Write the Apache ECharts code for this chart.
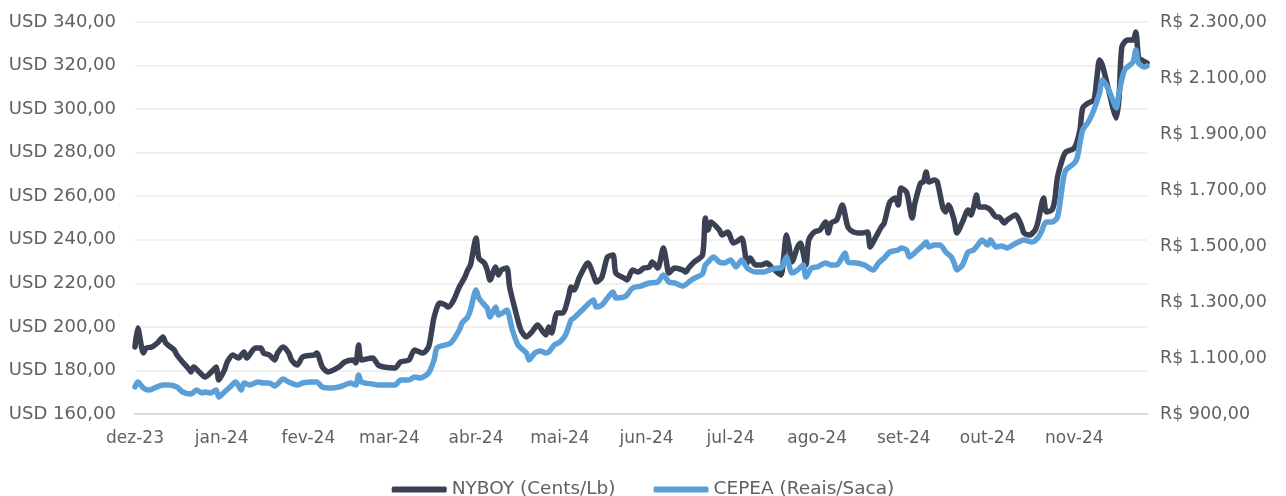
<!DOCTYPE html>
<html>
<head>
<meta charset="utf-8">
<script src="https://cdn.jsdelivr.net/npm/echarts@6/dist/echarts.min.js"></script>
<style>html,body{margin:0;padding:0;background:#fff}#c{width:1286px;height:496px}</style>
</head>
<body>
<div id="c"></div>
<script>
var monthStarts = ['2023-12-01','2024-01-01','2024-02-01','2024-03-01','2024-04-01','2024-05-01','2024-06-01','2024-07-01','2024-08-01','2024-09-01','2024-10-01','2024-11-01'];
var monthLabels = ['dez-23','jan-24','fev-24','mar-24','abr-24','mai-24','jun-24','jul-24','ago-24','set-24','out-24','nov-24'];
var seriesNames = ['NYBOY (Cents/Lb)','CEPEA (Reais/Saca)'];

var nyboy = [
['2023-12-01',190.8],['2023-12-02',199.5],['2023-12-04',188.0],['2023-12-05',190.3],['2023-12-07',190.8],['2023-12-09',192.6],['2023-12-11',195.4],['2023-12-12',192.6],['2023-12-15',189.4],['2023-12-16',187.1],['2023-12-18',183.9],['2023-12-20',181.1],['2023-12-21',179.3],['2023-12-22',181.6],['2023-12-24',179.3],['2023-12-26',177.0],['2023-12-29',180.2],['2023-12-30',181.6],['2023-12-31',175.6],
['2024-01-02',180.2],['2024-01-03',183.9],['2024-01-05',187.1],['2024-01-07',185.7],['2024-01-09',188.5],['2024-01-10',185.7],['2024-01-13',190.3],['2024-01-15',190.3],['2024-01-16',188.0],['2024-01-18',187.1],['2024-01-20',184.8],['2024-01-21',188.0],['2024-01-23',190.8],['2024-01-25',188.0],['2024-01-26',184.8],['2024-01-28',182.5],['2024-01-30',186.2],
['2024-02-03',187.1],['2024-02-04',188.0],['2024-02-06',181.6],['2024-02-08',179.3],['2024-02-12',181.6],['2024-02-14',183.9],['2024-02-17',184.8],['2024-02-18',183.4],['2024-02-19',191.7],['2024-02-20',184.8],['2024-02-24',185.7],['2024-02-26',182.5],['2024-02-28',181.6],
['2024-03-03',181.1],['2024-03-05',183.9],['2024-03-08',184.8],['2024-03-10',189.4],['2024-03-13',188.0],['2024-03-15',190.8],['2024-03-16',197.2],['2024-03-17',204.5],['2024-03-19',211.0],['2024-03-21',210.1],['2024-03-22',209.1],['2024-03-24',212.3],['2024-03-26',218.3],['2024-03-28',222.9],['2024-03-29',226.1],['2024-03-30',228.4],
['2024-04-01',240.8],['2024-04-02',231.6],['2024-04-04',229.3],['2024-04-05',226.1],['2024-04-06',221.5],['2024-04-08',227.5],['2024-04-09',223.8],['2024-04-10',226.1],['2024-04-12',227.0],['2024-04-13',218.3],['2024-04-15',207.8],['2024-04-17',198.6],['2024-04-19',195.4],['2024-04-21',197.7],['2024-04-23',200.9],['2024-04-25',197.7],['2024-04-26',196.3],['2024-04-27',200.0],['2024-04-28',197.2],['2024-04-30',206.4],
['2024-05-02',206.4],['2024-05-04',213.3],['2024-05-05',218.3],['2024-05-06',216.9],['2024-05-08',222.9],['2024-05-11',229.3],['2024-05-13',223.8],['2024-05-14',220.6],['2024-05-16',222.9],['2024-05-18',232.1],['2024-05-20',233.0],['2024-05-21',224.7],['2024-05-24',222.4],['2024-05-25',221.5],['2024-05-27',226.1],['2024-05-29',225.2],['2024-05-31',227.0],
['2024-06-02',227.5],['2024-06-03',229.8],['2024-06-05',227.0],['2024-06-07',236.2],['2024-06-08',230.7],['2024-06-09',224.7],['2024-06-11',227.0],['2024-06-14',226.1],['2024-06-15',225.2],['2024-06-16',227.0],['2024-06-18',229.8],['2024-06-21',233.0],['2024-06-22',250.0],['2024-06-23',244.5],['2024-06-24',248.2],['2024-06-27',244.5],['2024-06-28',242.2],['2024-06-30',243.6],
['2024-07-02',238.5],['2024-07-03',239.0],['2024-07-05',240.8],['2024-07-07',229.3],['2024-07-08',231.6],['2024-07-10',228.4],['2024-07-12',228.4],['2024-07-14',229.3],['2024-07-16',227.0],['2024-07-19',223.8],['2024-07-20',231.6],['2024-07-21',242.2],['2024-07-22',236.7],['2024-07-23',229.8],['2024-07-25',236.7],['2024-07-26',238.5],['2024-07-28',228.4],['2024-07-29',239.9],['2024-07-31',243.6],
['2024-08-02',244.5],['2024-08-04',248.2],['2024-08-05',243.1],['2024-08-06',247.7],['2024-08-08',249.1],['2024-08-10',256.0],['2024-08-12',245.9],['2024-08-14',243.6],['2024-08-17',243.1],['2024-08-19',243.6],['2024-08-20',236.7],['2024-08-22',241.3],['2024-08-24',245.9],['2024-08-25',247.7],['2024-08-27',257.3],['2024-08-29',259.2],['2024-08-30',256.0],['2024-08-31',263.8],
['2024-09-02',261.9],['2024-09-04',250.0],['2024-09-05',256.9],['2024-09-07',266.1],['2024-09-08',266.5],['2024-09-09',271.1],['2024-09-10',266.5],['2024-09-12',267.4],['2024-09-13',266.5],['2024-09-15',254.6],['2024-09-16',252.8],['2024-09-17',256.0],['2024-09-19',249.1],['2024-09-20',243.1],['2024-09-22',248.2],['2024-09-24',253.7],['2024-09-25',251.4],['2024-09-26',255.1],['2024-09-27',260.6],['2024-09-28',255.1],['2024-09-30',255.1],
['2024-10-02',253.7],['2024-10-04',250.5],['2024-10-05',250.5],['2024-10-07',247.7],['2024-10-08',249.1],['2024-10-11',251.4],['2024-10-13',246.8],['2024-10-14',243.1],['2024-10-16',242.2],['2024-10-18',244.5],['2024-10-19',248.2],['2024-10-21',259.2],['2024-10-22',252.8],['2024-10-24',253.7],['2024-10-25',258.3],['2024-10-26',268.8],['2024-10-28',278.0],['2024-10-29',280.3],
['2024-11-01',282.1],['2024-11-03',290.4],['2024-11-04',300.5],['2024-11-06',302.8],['2024-11-08',304.2],['2024-11-09',313.4],['2024-11-10',322.6],['2024-11-11',320.3],['2024-11-13',310.2],['2024-11-15',299.6],['2024-11-16',295.9],['2024-11-17',305.1],['2024-11-18',328.5],['2024-11-20',331.7],['2024-11-22',331.7],['2024-11-23',335.4],['2024-11-24',323.5],['2024-11-25',322.6],['2024-11-27',321.2]
];

var cepea = [
['2023-12-01',996.4],['2023-12-02',1014.3],['2023-12-04',992.9],['2023-12-06',985.7],['2023-12-08',992.9],['2023-12-11',1003.6],['2023-12-13',1003.6],['2023-12-16',996.4],['2023-12-18',978.6],['2023-12-21',971.4],['2023-12-23',985.7],['2023-12-25',975.0],['2023-12-26',978.6],['2023-12-28',975.0],['2023-12-30',985.7],['2023-12-31',960.7],
['2024-01-02',978.6],['2024-01-04',996.4],['2024-01-06',1014.3],['2024-01-08',985.7],['2024-01-09',1010.7],['2024-01-11',1003.6],['2024-01-14',1014.3],['2024-01-16',1010.7],['2024-01-18',1010.7],['2024-01-20',1000.0],['2024-01-23',1025.0],['2024-01-25',1014.3],['2024-01-28',1003.6],['2024-01-30',1010.7],
['2024-02-02',1014.3],['2024-02-04',1014.3],['2024-02-06',996.4],['2024-02-09',992.9],['2024-02-12',996.4],['2024-02-14',1003.6],['2024-02-16',1010.7],['2024-02-18',1003.6],['2024-02-19',1039.3],['2024-02-20',1014.3],['2024-02-24',1007.1],['2024-02-26',1003.6],
['2024-03-03',1003.6],['2024-03-05',1021.4],['2024-03-08',1021.4],['2024-03-10',1032.1],['2024-03-12',1028.6],['2024-03-15',1046.4],['2024-03-17',1092.9],['2024-03-18',1135.7],['2024-03-21',1146.4],['2024-03-23',1153.6],['2024-03-26',1200.0],['2024-03-27',1225.0],['2024-03-29',1246.4],['2024-03-30',1271.4],
['2024-04-01',1342.9],['2024-04-02',1314.3],['2024-04-04',1289.3],['2024-04-05',1278.6],['2024-04-06',1246.4],['2024-04-08',1282.1],['2024-04-09',1253.6],['2024-04-11',1264.3],['2024-04-12',1271.4],['2024-04-14',1200.0],['2024-04-16',1146.4],['2024-04-19',1117.9],['2024-04-20',1092.9],['2024-04-22',1117.9],['2024-04-24',1125.0],['2024-04-26',1117.9],['2024-04-27',1121.4],['2024-04-29',1146.4],
['2024-05-01',1157.1],['2024-05-03',1182.1],['2024-05-05',1235.7],['2024-05-06',1242.9],['2024-05-09',1271.4],['2024-05-13',1307.1],['2024-05-14',1282.1],['2024-05-16',1289.3],['2024-05-18',1314.3],['2024-05-20',1335.7],['2024-05-21',1314.3],['2024-05-24',1317.9],['2024-05-25',1325.0],['2024-05-27',1350.0],['2024-05-30',1357.1],
['2024-06-02',1367.9],['2024-06-05',1371.4],['2024-06-07',1396.4],['2024-06-09',1371.4],['2024-06-11',1367.9],['2024-06-14',1357.1],['2024-06-17',1378.6],['2024-06-19',1389.3],['2024-06-21',1400.0],['2024-06-22',1432.1],['2024-06-23',1442.9],['2024-06-25',1460.7],['2024-06-27',1442.9],['2024-06-29',1439.3],
['2024-07-01',1450.0],['2024-07-03',1425.0],['2024-07-05',1450.0],['2024-07-07',1421.4],['2024-07-10',1407.1],['2024-07-13',1407.1],['2024-07-15',1414.3],['2024-07-18',1421.4],['2024-07-19',1421.4],['2024-07-21',1460.7],['2024-07-23',1403.6],['2024-07-25',1414.3],['2024-07-27',1432.1],['2024-07-28',1389.3],['2024-07-30',1421.4],
['2024-08-01',1425.0],['2024-08-04',1439.3],['2024-08-06',1432.1],['2024-08-08',1432.1],['2024-08-11',1475.0],['2024-08-12',1442.9],['2024-08-15',1439.3],['2024-08-18',1432.1],['2024-08-21',1414.3],['2024-08-23',1439.3],['2024-08-25',1457.1],['2024-08-27',1478.6],['2024-08-30',1485.7],['2024-08-31',1492.9],
['2024-09-02',1485.7],['2024-09-03',1460.7],['2024-09-06',1485.7],['2024-09-08',1503.6],['2024-09-09',1514.3],['2024-09-10',1496.4],['2024-09-12',1503.6],['2024-09-14',1503.6],['2024-09-16',1478.6],['2024-09-18',1460.7],['2024-09-19',1439.3],['2024-09-20',1414.3],['2024-09-22',1432.1],['2024-09-24',1478.6],['2024-09-26',1485.7],['2024-09-28',1510.7],['2024-09-29',1521.4],
['2024-10-01',1503.6],['2024-10-02',1521.4],['2024-10-04',1496.4],['2024-10-06',1500.0],['2024-10-08',1492.9],['2024-10-10',1503.6],['2024-10-12',1514.3],['2024-10-14',1521.4],['2024-10-17',1514.3],['2024-10-19',1528.6],['2024-10-20',1546.4],['2024-10-22',1585.7],['2024-10-24',1585.7],['2024-10-26',1603.6],['2024-10-28',1735.7],['2024-10-29',1771.4],
['2024-11-01',1796.4],['2024-11-02',1814.3],['2024-11-04',1914.3],['2024-11-06',1942.9],['2024-11-08',1985.7],['2024-11-10',2046.4],['2024-11-11',2092.9],['2024-11-13',2064.3],['2024-11-15',2014.3],['2024-11-16',1992.9],['2024-11-17',2046.4],['2024-11-19',2128.6],['2024-11-22',2157.1],['2024-11-23',2200.0],['2024-11-24',2153.6],['2024-11-26',2139.3],['2024-11-27',2143.0]
];

var usdTicks = {min:160, max:340, interval:20};
var brlTicks = {min:900, max:2300, interval:200};
var xRange = {min:'2023-12-01', max:'2024-11-27'};

function ts(s){ var p=s.split('-'); return Date.UTC(+p[0], +p[1]-1, +p[2]); }
function toTs(arr){ return arr.map(function(d){ return [ts(d[0]), d[1]]; }); }
function fmtBR(v){
  var s = v.toFixed(2).split('.');
  s[0] = s[0].replace(/\B(?=(\d{3})+(?!\d))/g, '.');
  return s[0] + ',' + s[1];
}
var monthTs = monthStarts.map(ts);
var labelMap = {};
monthTs.forEach(function(t,i){ labelMap[t] = monthLabels[i]; });

var FONT = 'DejaVu Sans';
var TXT = '#616161';
var chart = echarts.init(document.getElementById('c'), null, {renderer:'canvas'});
chart.setOption({
  animation:false,
  textStyle:{fontFamily:FONT},
  grid:{left:135, right:139, top:22, bottom:82, containLabel:false},
  legend:{
    data:seriesNames, left:'center', top:475,
    icon:'roundRect', itemWidth:55, itemHeight:6, itemGap:38, itemTextGap:4,
    textStyle:{color:TXT, fontSize:18.5, fontFamily:FONT}
  },
  xAxis:{
    type:'value', min:ts(xRange.min), max:ts(xRange.max),
    axisLine:{show:true, onZero:false, lineStyle:{color:'#d9d9d9', width:2}},
    axisTick:{show:false},
    splitLine:{show:false},
    axisLabel:{
      customValues:monthTs, color:TXT, fontSize:17, fontFamily:FONT, margin:16,
      hideOverlap:false,
      formatter:function(v){ return labelMap[v] || ''; }
    }
  },
  yAxis:[
    {type:'value', min:usdTicks.min, max:usdTicks.max, interval:usdTicks.interval, position:'left',
     axisLine:{show:false}, axisTick:{show:false},
     splitLine:{lineStyle:{color:'#f0f0f0', width:2}},
     axisLabel:{color:TXT, fontSize:18, fontFamily:FONT, margin:19, formatter:function(v){return 'USD ' + fmtBR(v);}}},
    {type:'value', min:brlTicks.min, max:brlTicks.max, interval:brlTicks.interval, position:'right',
     axisLine:{show:false}, axisTick:{show:false}, splitLine:{show:false},
     axisLabel:{color:TXT, fontSize:17.5, fontFamily:FONT, margin:13, formatter:function(v){return 'R$ ' + fmtBR(v);}}}
  ],
  series:[
    {name:seriesNames[0], type:'line', yAxisIndex:0, data:toTs(nyboy), showSymbol:false, smooth:0.25,
     itemStyle:{color:'#3a4152'}, lineStyle:{color:'#3a4152', width:5.5, cap:'round', join:'round'}},
    {name:seriesNames[1], type:'line', yAxisIndex:1, data:toTs(cepea), showSymbol:false, smooth:0.25,
     itemStyle:{color:'#5b9fd8'}, lineStyle:{color:'#5b9fd8', width:5.5, cap:'round', join:'round'}}
  ]
});
</script>
</body>
</html>
